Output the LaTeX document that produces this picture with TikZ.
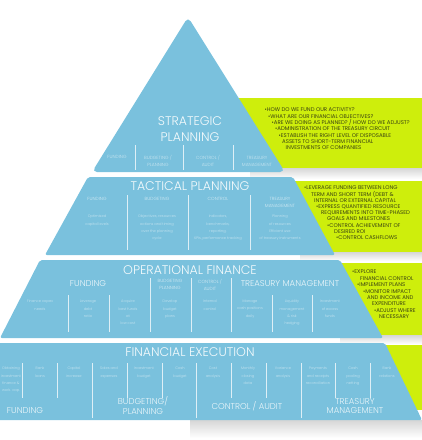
\documentclass[tikz,border=0pt]{standalone}
\usepackage{fontspec}
\setmainfont{Poppins}[UprightFont=* Light]
\newfontfamily\notefont{Poppins}
\usepackage{tikz}
\usetikzlibrary{positioning}
\usepackage{xcolor}
\definecolor{pyrblue}{RGB}{122,193,221}
\definecolor{acidgreen}{RGB}{206,238,12}
\definecolor{greentxt}{RGB}{58,66,18}

\begin{document}
\begin{tikzpicture}[x=1pt, y=-1pt,
    band/.style={fill=pyrblue, rounded corners=2pt},
    greenbox/.style={fill=acidgreen},
    shadowbar/.style={top color=black!16, bottom color=white},
    bandtitle/.style={text=white!92!pyrblue, font=\fontsize{12.5}{16}\selectfont,
        align=center, inner sep=0pt},
    grouphead/.style={text=white!85!pyrblue, font=\fontsize{8.5}{9.5}\selectfont,
        align=center, inner sep=0pt},
    cellhead/.style={text=white!68!pyrblue, font=\fontsize{4.5}{7}\selectfont,
        align=center, inner sep=0pt},
    celltext/.style={text=white!60!pyrblue, font=\fontsize{3.6}{7.3}\selectfont,
        align=center, inner sep=0pt, anchor=north},
    greentext/.style={text=greentxt, font=\notefont\fontsize{5.4}{6}\selectfont,
        anchor=west, inner sep=0pt},
    divline/.style={draw=white!75!pyrblue, line width=0.7pt}
]
    \useasboundingbox (0,0) rectangle (422,440);
    \clip (0,0) rectangle (422,440);

    % green side panels and their shadows
    \fill[greenbox] (230,98) rectangle (422,168);
    \fill[greenbox] (280,181) rectangle (422,252);
    \fill[greenbox] (330,263) rectangle (422,335);
    \fill[greenbox] (370,345) rectangle (422,410);
    \shade[shadowbar] (250,168) rectangle (422,179);
    \shade[shadowbar] (300,252) rectangle (422,261);
    \shade[shadowbar] (340,335) rectangle (422,344);
    \shade[shadowbar] (190,420) rectangle (422,438);

    % pyramid levels
    \fill[pyrblue, rounded corners=5pt] (92,172) -- (188,17) -- (285,172) -- cycle;
    \fill[band] (88,177) -- (293,177) -- (335,255) -- (45,255) -- cycle;
    \fill[band] (40,260) -- (340,260) -- (383,338) -- (0,338) -- cycle;
    \fill[band] (-3,343) -- (385,343) -- (422,420) -- (-45,420) -- cycle;

    % strategic planning
    \node[bandtitle] (strat) at (190,129) {STRATEGIC\\PLANNING};
    \node[cellhead, text=white!60!pyrblue] (s-fund) at (117,157) {FUNDING};
    \node[cellhead, text=white!60!pyrblue] (s-budg) at (158,161) {BUDGETING /\\PLANNING};
    \node[cellhead, text=white!60!pyrblue] (s-ctrl) at (208,161) {CONTROL /\\AUDIT};
    \node[cellhead, text=white!60!pyrblue] (s-tm) at (257,161) {TREASURY\\MANAGEMENT};
    \foreach \x in {135,183,233}
        \draw[divline] (\x,145) -- (\x,170);

    % tactical planning
    \node[bandtitle] (tact) at (190,186) {TACTICAL PLANNING};
    \node[cellhead] (t-fund) at (97,199) {FUNDING};
    \node[cellhead] (t-budg) at (157,199) {BUDGETING};
    \node[cellhead] (t-ctrl) at (218,199) {CONTROL};
    \node[cellhead] (t-tm) at (280,202.5) {TREASURY\\MANAGEMENT};
    \node[celltext] (t-fund-txt) at (97,215) {Optimised\\capital levels};
    \node[celltext] (t-budg-txt) at (157,215) {Objectives, resources\\actions and timing\\over the planning\\cycle};
    \node[celltext] (t-ctrl-txt) at (218,215) {Indicators,\\benchmarks,\\reporting,\\KPIs, performance tracking};
    \node[celltext] (t-tm-txt) at (280,215) {Planning\\of resources\\Efficient use\\of treasury instruments};
    \foreach \x in {127,188,250}
        \draw[divline] (\x,195) -- (\x,250);

    % operational finance
    \node[bandtitle] (oper) at (190,270) {OPERATIONAL FINANCE};
    \node[grouphead] (o-fund) at (88,284) {FUNDING};
    \node[cellhead] (o-budg) at (170,284.5) {BUDGETING\\PLANNING};
    \node[cellhead] (o-ctrl) at (210,284.5) {CONTROL /\\AUDIT};
    \node[grouphead] (o-tm) at (290,284) {TREASURY MANAGEMENT};
    \foreach \x/\t [count=\i] in {40/{Finance capex\\needs}, 88/{Leverage\\debt\\ratio},
            128/{Acquire\\best funds\\at\\low cost}, 170/{Develop\\budget\\plans},
            210/{Internal\\control}, 250/{Manage\\cash positions\\daily},
            292/{Liquidity\\management\\\& risk\\hedging}, 330/{Investment\\of excess\\funds}}
        \node[celltext] (o-c\i) at (\x,300) {\t};
    \foreach \x in {68,109,272,312}
        \draw[divline] (\x,295) -- (\x,332);
    \foreach \x in {150,191,231}
        \draw[divline] (\x,278) -- (\x,332);

    % financial execution
    \node[bandtitle] (exec) at (190,352) {FINANCIAL EXECUTION};
    \foreach \x/\t [count=\i] in {11/{Obtaining\\investment\\finance \&\\work. cap.},
            40/{Bank\\loans}, 74/{Capital\\increase}, 109/{Sales and\\expenses},
            144/{Investment\\budget}, 180/{Cash\\budget}, 213/{Cost\\analysis},
            248/{Monthly\\closing\\data}, 283/{Variance\\analysis},
            318/{Payments\\and receipts\\reconciliation}, 353/{Cash\\pooling\\netting},
            387/{Bank\\relations}}
        \node[celltext] (e-c\i) at (\x,367) {\t};
    \foreach \x in {22,57,127,162,231,266,335,370}
        \draw[divline] (\x,363) -- (\x,398);
    \foreach \x in {92,196,301}
        \draw[divline] (\x,363) -- (\x,418);
    \node[grouphead] (e-fund) at (25,411) {FUNDING};
    \node[grouphead] (e-budg) at (143,405.5) {BUDGETING/\\PLANNING};
    \node[grouphead] (e-ctrl) at (247,406) {CONTROL / AUDIT};
    \node[grouphead] (e-tm) at (355,406) {TREASURY\\MANAGEMENT};

    % notes in the green panels
    \foreach \t [count=\i] in {{\textbullet HOW DO WE FUND OUR ACTIVITY?},
            {\textbullet WHAT ARE OUR FINANCIAL OBJECTIVES?},
            {\textbullet ARE WE DOING AS PLANNED? / HOW DO WE ADJUST?},
            {\textbullet ADMINISTRATION OF THE TREASURY CIRCUIT},
            {\textbullet ESTABLISH THE RIGHT LEVEL OF DISPOSABLE},
            {ASSETS TO SHORT-TERM FINANCIAL},
            {INVESTMENTS OF COMPANIES}}
        \node[greentext] (g1-\i) at (261+3.5*\i, 103.7+6.3*\i) {\t};
    \foreach \x/\t [count=\i] in {304/{\textbullet LEVERAGE FUNDING BETWEEN LONG},
            311/{TERM AND SHORT TERM (DEBT \&},
            314/{INTERNAL OR EXTERNAL CAPITAL},
            316/{\textbullet EXPRESS QUANTIFIED RESOURCE},
            321/{REQUIREMENTS INTO TIME-PHASED},
            327/{GOALS AND MILESTONES},
            327/{\textbullet CONTROL ACHIEVEMENT OF},
            334/{DESIRED ROI},
            336/{\textbullet CONTROL CASHFLOWS}}
        \node[greentext] (g2-\i) at (\x, 181.8+6.2*\i) {\t};
    \foreach \x/\t [count=\i] in {352/{\textbullet EXPLORE},
            360/{FINANCIAL CONTROL},
            357/{\textbullet IMPLEMENT PLANS},
            363/{\textbullet MONITOR IMPACT},
            367/{AND INCOME AND},
            372/{EXPENDITURE},
            374/{\textbullet ADJUST WHERE},
            379/{NECESSARY}}
        \node[greentext] (g3-\i) at (\x, 265.6+6.4*\i) {\t};
\end{tikzpicture}
\end{document}
